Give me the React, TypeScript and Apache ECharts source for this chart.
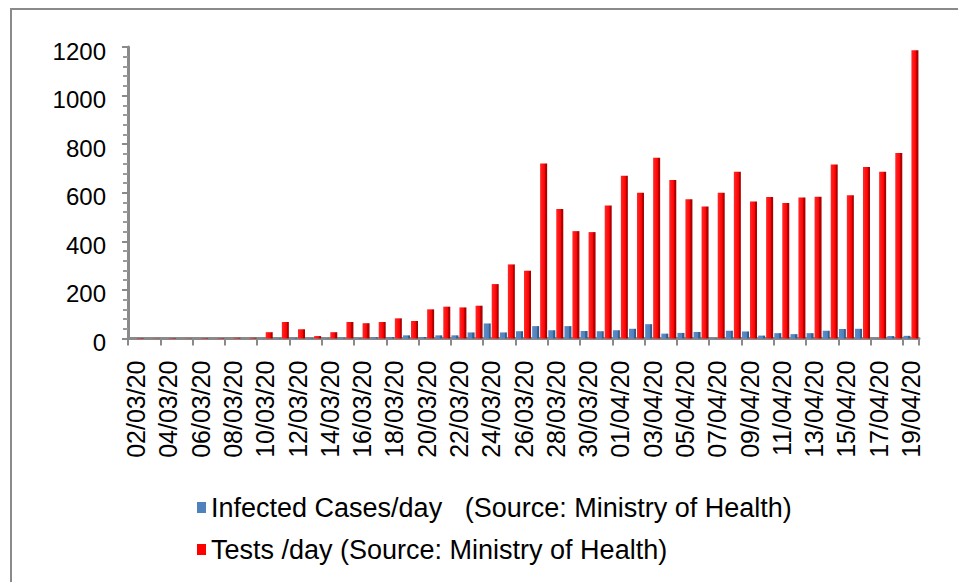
import React, { useEffect, useRef } from "react";
import * as echarts from "echarts";

const dates = [
  "02/03/20", "03/03/20", "04/03/20", "05/03/20", "06/03/20", "07/03/20", "08/03/20", "09/03/20",
  "10/03/20", "11/03/20", "12/03/20", "13/03/20", "14/03/20", "15/03/20", "16/03/20", "17/03/20",
  "18/03/20", "19/03/20", "20/03/20", "21/03/20", "22/03/20", "23/03/20", "24/03/20", "25/03/20",
  "26/03/20", "27/03/20", "28/03/20", "29/03/20", "30/03/20", "31/03/20", "01/04/20", "02/04/20",
  "03/04/20", "04/04/20", "05/04/20", "06/04/20", "07/04/20", "08/04/20", "09/04/20", "10/04/20",
  "11/04/20", "12/04/20", "13/04/20", "14/04/20", "15/04/20", "16/04/20", "17/04/20", "18/04/20",
  "19/04/20",
];

const infectedPerDay = [
  0, 0, 0, 0, 0, 0, 0, 0,
  1, 2, 3, 2, 1, 3, 2, 5, 6,
  13, 6, 13, 13, 25, 62, 25, 30, 51, 34, 51, 31, 30, 34, 40, 59,
  20, 23, 27, 2, 32, 29, 12, 22, 18, 22, 32, 39, 40, 1, 10, 11,
];

const testsPerDay = [
  2, 1, 2, 1, 2, 2, 3, 3,
  26, 68, 38, 10, 26, 68, 63, 68, 83,
  72, 120, 131, 128, 135, 224, 305, 279, 720, 533, 442, 438, 547, 670, 600, 744,
  653, 573, 543, 600, 686, 564, 583, 558, 580, 584, 716, 590, 706, 686, 764, 1187,
];

const yTicks = [0, 200, 400, 600, 800, 1000, 1200];

const seriesNames = [
  "Infected Cases/day   (Source: Ministry of Health)",
  "Tests /day (Source: Ministry of Health)",
];

const FONT = "'Liberation Sans', Arial, sans-serif";
const GREY = "#8a8a8a";

export default function App() {
  const ref = useRef<HTMLDivElement>(null);

  useEffect(() => {
    if (!ref.current) return;
    const chart = echarts.init(ref.current, null, { renderer: "svg" });

    const blueGrad = new echarts.graphic.LinearGradient(0, 0, 1, 0, [
      { offset: 0, color: "#5b8cc8" },
      { offset: 0.68, color: "#4f81bd" },
      { offset: 0.7, color: "#3a6496" },
      { offset: 1, color: "#2f5583" },
    ]);
    const redGrad = new echarts.graphic.LinearGradient(0, 0, 1, 0, [
      { offset: 0, color: "#ff2a2a" },
      { offset: 0.68, color: "#ff0000" },
      { offset: 0.7, color: "#c00000" },
      { offset: 1, color: "#a00000" },
    ]);

    chart.setOption({
      animation: false,
      backgroundColor: "#ffffff",
      textStyle: { fontFamily: FONT },
      graphic: [
        {
          type: "rect",
          z: -10,
          shape: { x: 11, y: 9, width: 980, height: 600 },
          style: { fill: "none", stroke: GREY, lineWidth: 2 },
        },
      ],
      grid: { left: 128, right: 39, top: 47, bottom: 243.5, containLabel: false },
      legend: {
        orient: "vertical",
        left: 192,
        top: 489,
        itemWidth: 9,
        itemHeight: 11,
        itemGap: 15,
        icon: "rect",
        textStyle: { fontSize: 27, color: "#000", fontFamily: FONT },
        data: [
          { name: seriesNames[0], itemStyle: { color: "#4f81bd" } },
          { name: seriesNames[1], itemStyle: { color: "#ff0000" } },
        ],
      },
      xAxis: {
        type: "category",
        data: dates,
        boundaryGap: true,
        axisLine: { show: true, lineStyle: { color: GREY, width: 3 } },
        axisTick: {
          show: true,
          interval: 1,
          alignWithLabel: false,
          length: 7,
          lineStyle: { color: GREY, width: 2 },
        },
        axisLabel: {
          interval: 1,
          rotate: 90,
          fontSize: 25,
          color: "#000",
          margin: 22,
          fontFamily: FONT,
        },
        splitLine: { show: false },
      },
      yAxis: {
        type: "value",
        min: yTicks[0],
        max: yTicks[yTicks.length - 1],
        interval: 200,
        axisLine: { show: true, lineStyle: { color: GREY, width: 3 } },
        axisTick: { show: true, length: 6, lineStyle: { color: GREY, width: 2 } },
        minorTick: { show: true, splitNumber: 5, length: 5, lineStyle: { color: "#9a9a9a", width: 2 } },
        axisLabel: {
          fontSize: 24,
          color: "#000",
          margin: 22,
          fontFamily: FONT,
          verticalAlign: "top",
          lineHeight: 8,
          formatter: (v: number) => String(v),
        },
        splitLine: {
          show: true,
          lineStyle: {
            color: GREY,
            width: 2.5,
            shadowColor: "rgba(0,0,0,0.18)",
            shadowBlur: 2,
            shadowOffsetY: 2,
          },
        },
      },
      series: [
        {
          name: seriesNames[0],
          type: "bar",
          data: infectedPerDay,
          barWidth: 7,
          barGap: "14%",
          itemStyle: { color: blueGrad },
        },
        {
          name: seriesNames[1],
          type: "bar",
          data: testsPerDay,
          barWidth: 7,
          barGap: "14%",
          itemStyle: { color: redGrad },
        },
      ],
    });

    return () => chart.dispose();
  }, []);

  return (
    <div
      ref={ref}
      style={{ position: "absolute", left: 0, top: 0, width: 958, height: 582 }}
    />
  );
}
